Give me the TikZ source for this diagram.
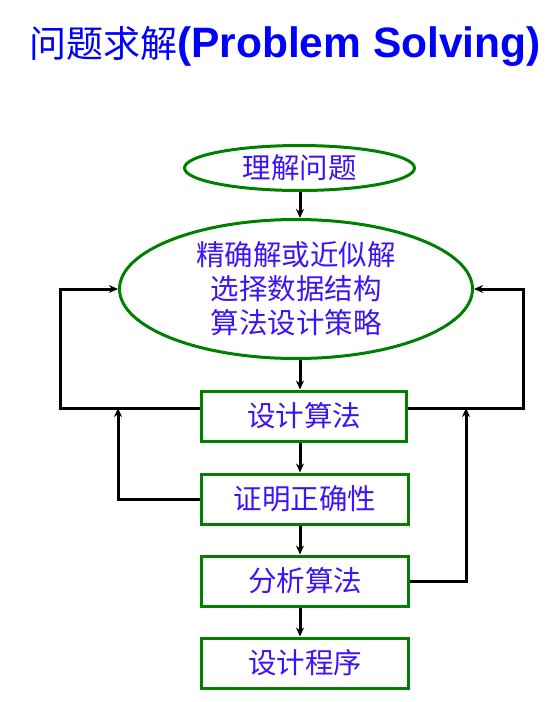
\documentclass[tikz,border=0pt]{standalone}
\usepackage{fontspec}
\setmainfont{Liberation Sans}
\newfontfamily\cjk{Noto Sans CJK SC}
\usetikzlibrary{shapes.geometric,arrows.meta}
\definecolor{boxgreen}{RGB}{0,128,0}
\definecolor{txtblue}{RGB}{60,20,250}
\definecolor{ttlblue}{RGB}{0,0,255}
\tikzset{
  stage/.style={draw=boxgreen, line width=3pt, text=txtblue, inner sep=0pt,
    font=\cjk\fontsize{28.5}{34}\selectfont},
  oval/.style={stage, ellipse},
  stagebox/.style={stage, rectangle, minimum width=207pt, minimum height=50pt},
}
\begin{document}
\begin{tikzpicture}[x=1pt, y=-1pt, line width=3pt,
    >={Stealth[length=9pt,width=8pt]}]
    \useasboundingbox (0,0) rectangle (557,702);

    % 标题
    \node[text=ttlblue] (title) at (285,46)
      {{\cjk\fontsize{37}{40}\selectfont 问题求解}{\fontsize{42.5}{46}\selectfont\bfseries (Problem Solving)}};

    % 两个椭圆
    \node[oval, minimum width=230pt, minimum height=45pt] (und) at (299.5,168) {理解问题};
    \node[oval, minimum width=353pt, minimum height=139pt, align=center] (plan) at (296,289)
      {精确解或近似解\\选择数据结构\\算法设计策略};

    % 四个方框
    \node[stagebox, minimum width=205pt] (algo) at (304,416) {设计算法};
    \node[stagebox] (proof) at (305,499) {证明正确性};
    \node[stagebox] (anal) at (305,581) {分析算法};
    \node[stagebox] (prog) at (305,663) {设计程序};

    % 竖直主线
    \coordinate (col) at (300,0);
    \draw[->] (und.south -| col) -- (plan.north -| col);
    \draw[->] (plan.south -| col) -- (algo.north -| col);
    \draw[->] (algo.south -| col) -- (proof.north -| col);
    \draw[->] (proof.south -| col) -- (anal.north -| col);
    \draw[->] (anal.south -| col) -- (prog.north -| col);

    % 回到椭圆的两条环路
    \coordinate (lft) at (60,408);
    \coordinate (rgt) at (523,408);
    \draw[->] (algo.west |- lft) -- (lft) |- (plan.west);
    \draw[->] (algo.east |- rgt) -- (rgt) |- (plan.east);

    % 证明、分析的反馈
    \coordinate (lup) at (118,408);
    \coordinate (rup) at (466,408);
    \draw[->] (proof.west) -| (lup);
    \draw[->] (anal.east) -| (rup);
  \end{tikzpicture}
\end{document}
